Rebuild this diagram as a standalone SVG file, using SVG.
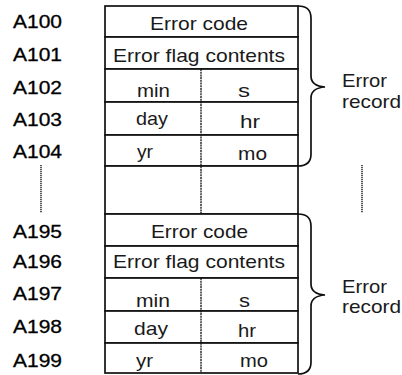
<svg xmlns="http://www.w3.org/2000/svg" width="402" height="375" viewBox="0 0 402 375">
<style>
  text { font-family: "Liberation Sans", Arial, sans-serif; font-size: 19px; fill: #1a1a1a; }
  .addr { font-size: 18px; fill: #000; stroke: #000; stroke-width: 0.3; }
  .cell { fill: #fff; stroke: #111; stroke-width: 1.7; }
  .div { stroke: #111; stroke-width: 1.3; stroke-dasharray: 2 0.7; fill: none; }
  .brace { fill: none; stroke: #111; stroke-width: 1.7; }
  .dots { stroke: #222; stroke-width: 1.5; stroke-dasharray: 1.2 0.8; fill: none; }
</style>

<g id="addresses">
  <text class="addr" x="13" y="28" textLength="49" lengthAdjust="spacingAndGlyphs">A100</text>
  <text class="addr" x="13" y="61" textLength="49" lengthAdjust="spacingAndGlyphs">A101</text>
  <text class="addr" x="13" y="94" textLength="49" lengthAdjust="spacingAndGlyphs">A102</text>
  <text class="addr" x="13" y="126" textLength="49" lengthAdjust="spacingAndGlyphs">A103</text>
  <text class="addr" x="13" y="158" textLength="49" lengthAdjust="spacingAndGlyphs">A104</text>
  <text class="addr" x="13" y="238" textLength="49" lengthAdjust="spacingAndGlyphs">A195</text>
  <text class="addr" x="13" y="268" textLength="49" lengthAdjust="spacingAndGlyphs">A196</text>
  <text class="addr" x="13" y="300" textLength="49" lengthAdjust="spacingAndGlyphs">A197</text>
  <text class="addr" x="13" y="333" textLength="49" lengthAdjust="spacingAndGlyphs">A198</text>
  <text class="addr" x="13" y="367" textLength="49" lengthAdjust="spacingAndGlyphs">A199</text>
</g>

<g id="row-A100">
  <rect class="cell" x="105" y="6" width="193" height="31"/>
  <text x="150" y="30" textLength="98" lengthAdjust="spacingAndGlyphs">Error code</text>
</g>
<g id="row-A101">
  <rect class="cell" x="105" y="37" width="193" height="32"/>
  <text x="113" y="62" textLength="172" lengthAdjust="spacingAndGlyphs">Error flag contents</text>
</g>
<g id="row-A102">
  <rect class="cell" x="105" y="69" width="193" height="33"/>
  <text x="137" y="97" textLength="33" lengthAdjust="spacingAndGlyphs">min</text>
  <text x="238" y="97" textLength="12" lengthAdjust="spacingAndGlyphs">s</text>
</g>
<g id="row-A103">
  <rect class="cell" x="105" y="102" width="193" height="33"/>
  <text x="136" y="125" textLength="32" lengthAdjust="spacingAndGlyphs">day</text>
  <text x="240" y="128" textLength="20" lengthAdjust="spacingAndGlyphs">hr</text>
</g>
<g id="row-A104">
  <rect class="cell" x="105" y="135" width="193" height="31"/>
  <text x="137" y="158" textLength="16" lengthAdjust="spacingAndGlyphs">yr</text>
  <text x="238" y="160" textLength="29" lengthAdjust="spacingAndGlyphs">mo</text>
</g>
<g id="row-gap">
  <rect class="cell" x="105" y="166" width="193" height="48"/>
</g>
<g id="row-A195">
  <rect class="cell" x="105" y="214" width="193" height="32"/>
  <text x="151" y="238" textLength="97" lengthAdjust="spacingAndGlyphs">Error code</text>
</g>
<g id="row-A196">
  <rect class="cell" x="105" y="246" width="193" height="32"/>
  <text x="113" y="268" textLength="172" lengthAdjust="spacingAndGlyphs">Error flag contents</text>
</g>
<g id="row-A197">
  <rect class="cell" x="105" y="278" width="193" height="33"/>
  <text x="136" y="307" textLength="34" lengthAdjust="spacingAndGlyphs">min</text>
  <text x="239" y="307" textLength="11" lengthAdjust="spacingAndGlyphs">s</text>
</g>
<g id="row-A198">
  <rect class="cell" x="105" y="311" width="193" height="32"/>
  <text x="134" y="335" textLength="34" lengthAdjust="spacingAndGlyphs">day</text>
  <text x="238" y="337" textLength="18" lengthAdjust="spacingAndGlyphs">hr</text>
</g>
<g id="row-A199">
  <rect class="cell" x="105" y="343" width="193" height="30"/>
  <text x="136" y="367" textLength="17" lengthAdjust="spacingAndGlyphs">yr</text>
  <text x="240" y="367" textLength="28" lengthAdjust="spacingAndGlyphs">mo</text>
</g>

<g id="dividers">
  <line class="div" x1="201" y1="69" x2="201" y2="214"/>
  <line class="div" x1="201" y1="278" x2="201" y2="373"/>
</g>

<g id="ellipsis">
  <line class="dots" x1="41" y1="165" x2="41" y2="213"/>
  <line class="dots" x1="362" y1="165" x2="362" y2="213"/>
</g>

<g id="connectors">
  <path class="brace" d="M298,6 Q311,6 311,18 L311,76 Q311,86 325,87 Q311,88 311,98 L311,154 Q311,166 298,166"/>
  <path class="brace" d="M298,214 Q311,214 311,226 L311,284 Q311,294 325,295 Q311,296 311,306 L311,362 Q311,374 298,374"/>
</g>

<g id="label-upper">
  <text x="342" y="87" textLength="45" lengthAdjust="spacingAndGlyphs">Error</text>
  <text x="342" y="108" textLength="59" lengthAdjust="spacingAndGlyphs">record</text>
</g>
<g id="label-lower">
  <text x="342" y="293" textLength="45" lengthAdjust="spacingAndGlyphs">Error</text>
  <text x="342" y="313" textLength="59" lengthAdjust="spacingAndGlyphs">record</text>
</g>
</svg>
